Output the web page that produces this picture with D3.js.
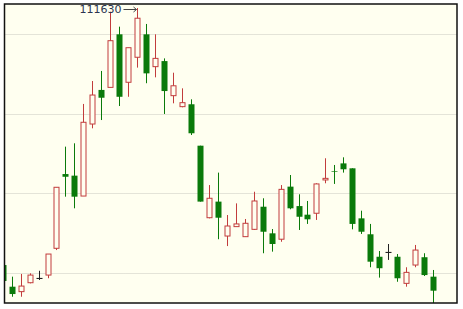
<!DOCTYPE html>
<html>
<head>
<meta charset="utf-8">
<script src="https://cdn.jsdelivr.net/npm/d3@7"></script>
<style>
  body { margin: 0; background: #fff; }
  .grid { stroke: #c9c9c0; stroke-dasharray: 1,1; }
  .maxLabel { font-family: "DejaVu Sans", sans-serif; font-size: 11px; fill: #2b3550; }
</style>
</head>
<body>
<script>
// daily prices, oldest first (first one is cut by the frame)
var days   = d3.range(0, 49);
var open   = [95500,94140,93830,94390,94710,94870,96550,101210,101110,99830,104350,106490,106650,109980,106970,108540,109980,107950,108300,106130,105440,105590,102990,98470,99480,97320,97910,97280,97740,99160,97490,97120,100420,99200,98660,98750,100840,101380,101880,101570,98430,97430,96020,96340,96020,94350,95500,95990,94770];
var high   = [95700,94770,94940,94980,95140,96190,100380,102930,103140,105610,107050,107680,111400,110460,109140,111630,110630,109980,108470,107570,106590,105900,102990,100520,101300,98640,99370,98390,100100,99690,97760,100520,101150,99940,99520,100630,102200,101780,102260,101570,98910,98080,96380,96820,96190,95360,96760,96240,95190];
var low    = [94300,93510,93510,94350,94560,94670,96440,99790,99060,99830,104080,104600,106650,105480,106060,107890,106910,107280,104980,105650,105400,103660,99480,98430,97120,96690,97910,97280,97700,96240,96340,96960,99000,97700,98080,98330,100630,100590,101300,97740,97450,95360,94710,95820,94450,94140,95360,94810,92930];
var close  = [94500,93680,94180,94870,94710,96190,100380,101040,99790,104460,106170,106000,109580,106060,109140,110990,107530,108470,106420,106750,105690,103770,99480,99690,98470,97950,98080,98120,99520,97590,96820,100250,99060,98530,98370,100590,100940,101340,101510,98080,97590,95710,95300,96340,94670,95040,96440,94870,93890];
var gridValues = [95000, 100000, 105000, 110000];
var maxValue = 111630;

var width = 463,
    height = 309;

var frame = {left: 4.5, top: 4, right: 457, bottom: 303};

var svg = d3.select("body")
    .append("svg")
    .attr("width", width)
    .attr("height", height);

//x by trading day, y by price
var x = d3.scaleLinear()
    .domain([0, 48])
    .range([2.7, 433]);

var y = d3.scaleLinear()
    .domain([95000, 110000])
    .range([273, 34]);

svg.append("clipPath")
    .attr("id", "plotClip")
    .append("rect")
    .attr("x", frame.left)
    .attr("y", frame.top)
    .attr("width", frame.right - frame.left)
    .attr("height", frame.bottom - frame.top);

//cream plot background
svg.append("rect")
    .attr("x", frame.left)
    .attr("y", frame.top)
    .attr("width", frame.right - frame.left)
    .attr("height", frame.bottom - frame.top)
    .attr("fill", "#fffff0");

//dotted grid lines
svg.selectAll(".grid")
    .data(gridValues)
    .enter()
    .append("line")
    .attr("class", "grid")
    .attr("x1", frame.left)
    .attr("x2", frame.right)
    .attr("y1", function(d){ return Math.round(y(d)) + 0.5; })
    .attr("y2", function(d){ return Math.round(y(d)) + 0.5; });

var candles = days.map(function(d, i){
    return {i: d, o: open[i], h: high[i], l: low[i], c: close[i]};
});

function colour(d){
    if (d.c > d.o) return "#c23c3c";
    if (d.c < d.o) return "#0a7a0a";
    return "#222";
}

var plot = svg.append("g").attr("clip-path", "url(#plotClip)");

var candle = plot.selectAll(".candle")
    .data(candles)
    .enter()
    .append("g")
    .attr("class", "candle");

//wicks
candle.append("line")
    .attr("x1", function(d){ return Math.round(x(d.i)) + 0.5; })
    .attr("x2", function(d){ return Math.round(x(d.i)) + 0.5; })
    .attr("y1", function(d){ return y(d.h); })
    .attr("y2", function(d){ return y(d.l); })
    .attr("stroke", colour)
    .attr("stroke-width", 1);

//bodies: hollow for up days, filled for down days
candle.append("rect")
    .attr("x", function(d){ return Math.round(x(d.i)) - 2.5; })
    .attr("width", 6)
    .attr("y", function(d){ return y(Math.max(d.o, d.c)); })
    .attr("height", function(d){ return Math.max(0.1, Math.abs(y(d.o) - y(d.c))); })
    .attr("fill", function(d){ return d.c > d.o ? "#fffff0" : colour(d); })
    .attr("stroke", function(d){ return d.c > d.o ? colour(d) : "none"; })
    .attr("stroke-width", 1)
    .each(function(d){
        //up bodies are inset by half the stroke
        if (d.c > d.o) {
            d3.select(this)
                .attr("x", Math.round(x(d.i)) - 2)
                .attr("width", 5);
        }
    });

//crosses for days that close where they opened
candle.filter(function(d){ return d.o === d.c; })
    .append("line")
    .attr("x1", function(d){ return Math.round(x(d.i)) - 2.5; })
    .attr("x2", function(d){ return Math.round(x(d.i)) + 3.5; })
    .attr("y1", function(d){ return Math.round(y(d.o)) + 0.5; })
    .attr("y2", function(d){ return Math.round(y(d.o)) + 0.5; })
    .attr("stroke", "#222");

//label for the highest price
var maxIndex = high.indexOf(maxValue);
var mx = Math.round(x(maxIndex)) + 0.5,
    my = Math.round(y(maxValue)) + 1;

svg.append("text")
    .attr("class", "maxLabel")
    .attr("x", mx - 16)
    .attr("y", my + 4)
    .attr("text-anchor", "end")
    .text(maxValue);

svg.append("line")
    .attr("x1", mx - 14)
    .attr("x2", mx - 1)
    .attr("y1", my + 0.5)
    .attr("y2", my + 0.5)
    .attr("stroke", "#444");

svg.append("path")
    .attr("d", "M" + (mx - 4) + "," + (my - 2) + "L" + (mx - 1) + "," + (my + 0.5) + "L" + (mx - 4) + "," + (my + 3))
    .attr("fill", "none")
    .attr("stroke", "#444");

//black frame
svg.append("rect")
    .attr("x", frame.left)
    .attr("y", frame.top)
    .attr("width", frame.right - frame.left)
    .attr("height", frame.bottom - frame.top)
    .attr("fill", "none")
    .attr("stroke", "#111")
    .attr("stroke-width", 1.5);
</script>
</body>
</html>
